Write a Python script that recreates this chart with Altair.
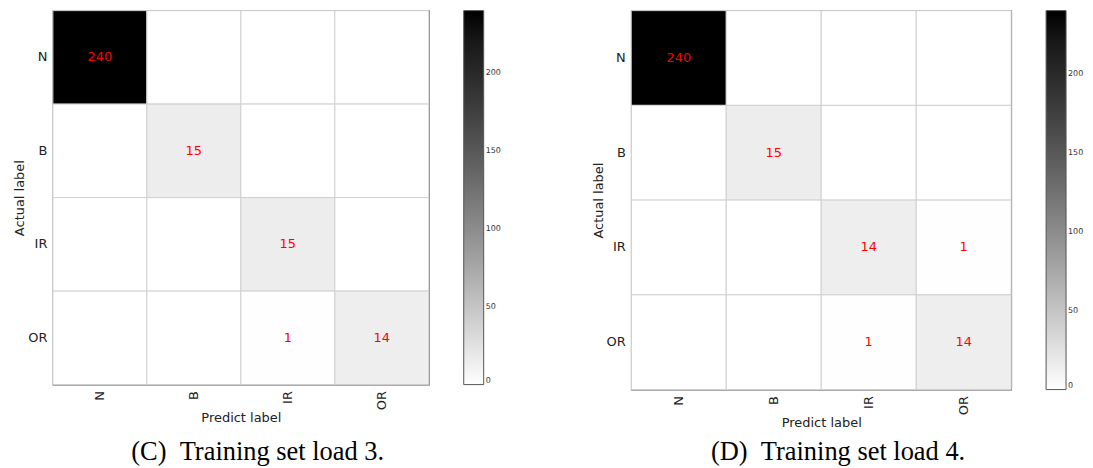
import altair as alt
import pandas as pd

labels = ["N", "B", "IR", "OR"]
load3 = [[240, 0, 0, 0],
         [0, 15, 0, 0],
         [0, 0, 15, 0],
         [0, 0, 1, 14]]
load4 = [[240, 0, 0, 0],
         [0, 15, 0, 0],
         [0, 0, 14, 1],
         [0, 0, 1, 14]]
captions = ["(C)\u00a0\u00a0Training set load 3.", "(D)\u00a0\u00a0Training set load 4."]
legend_ticks = [0, 50, 100, 150, 200]


def to_df(mat):
    rows = []
    for i, a in enumerate(labels):
        for j, p in enumerate(labels):
            v = mat[i][j]
            rows.append({"actual": a, "pred": p, "value": v,
                         "txt": str(v) if v > 0 else ""})
    return pd.DataFrame(rows)


def panel(mat, caption, w, h, cap_offset):
    df = to_df(mat)
    base = alt.Chart(df)
    x = alt.X("pred:N", sort=labels, title="Predict label",
              axis=alt.Axis(labelAngle=270, labelPadding=6, ticks=False,
                            domain=False, titlePadding=2))
    y = alt.Y("actual:N", sort=labels, title="Actual label",
              axis=alt.Axis(labelAngle=0, labelPadding=6, ticks=False,
                            domain=False, titlePadding=1))
    rect = base.mark_rect(stroke="#d0d0d0", strokeWidth=1).encode(
        x=x, y=y,
        color=alt.Color("value:Q",
                        scale=alt.Scale(domain=[0, 240], range=["#ffffff", "#000000"]),
                        legend=alt.Legend(title=None, orient="right", offset=35,
                                          gradientLength=h, gradientThickness=20,
                                          values=legend_ticks,
                                          labelFontSize=8, labelColor="#333",
                                          labelFont="DejaVu Sans",
                                          gradientStrokeColor="#555",
                                          gradientStrokeWidth=1)),
    )
    text = base.mark_text(color="#ff0000", fontSize=13, font="DejaVu Sans").encode(
        x=x, y=y, text="txt:N")
    return alt.layer(rect, text).properties(
        width=w, height=h,
        title=alt.Title(caption, orient="bottom", font="Liberation Serif",
                        fontSize=26.5, fontWeight="normal", color="#000",
                        offset=cap_offset, frame="bounds", anchor="middle"),
    )


left = panel(load3, captions[0], 377, 375, 14)
right = panel(load4, captions[1], 381, 380, 9)

chart = alt.hconcat(left, right, spacing=89).resolve_scale(color="independent").properties(
    padding={"left": 5, "top": 0, "right": 0, "bottom": 0}
).configure_view(stroke="#555", strokeWidth=1.2).configure_axis(
    labelFont="DejaVu Sans", labelFontSize=13, labelColor="#222",
    titleFont="DejaVu Sans", titleFontSize=13, titleFontWeight="normal",
    titleColor="#222", grid=False
)

chart.save("out.html", embed_options={"renderer": "svg", "actions": False})
